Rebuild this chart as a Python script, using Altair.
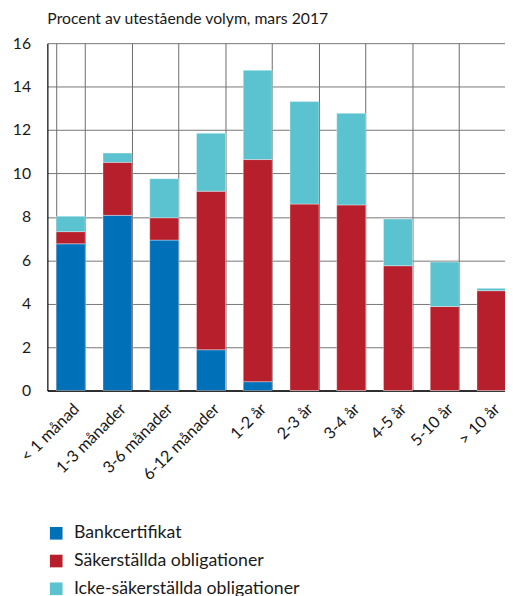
import altair as alt
import pandas as pd

categories = ["< 1 månad", "1-3 månader", "3-6 månader", "6-12 månader", "1-2 år",
              "2-3 år", "3-4 år", "4-5 år", "5-10 år", "> 10 år"]
series_names = ["Bankcertifikat", "Säkerställda obligationer", "Icke-säkerställda obligationer"]
bankcertifikat = [6.76, 8.07, 6.93, 1.88, 0.41, 0.0, 0.0, 0.0, 0.0, 0.0]
sakerstallda = [0.56, 2.44, 1.03, 7.30, 10.23, 8.59, 8.55, 5.75, 3.87, 4.60]
icke_sakerstallda = [0.71, 0.43, 1.80, 2.67, 4.11, 4.72, 4.22, 2.15, 2.05, 0.11]
colors = ["#0070B8", "#B81F2C", "#5BC2D0"]
y_ticks = [0, 2, 4, 6, 8, 10, 12, 14, 16]

rows = []
for s_idx, (name, vals) in enumerate(zip(series_names, [bankcertifikat, sakerstallda, icke_sakerstallda])):
    for c, v in zip(categories, vals):
        rows.append({"kategori": c, "serie": name, "varde": v, "ordning": s_idx})
df = pd.DataFrame(rows)

FONT = "Lato"

chart = alt.Chart(df).mark_bar(stroke="white", strokeWidth=0.6, strokeOpacity=0.6).encode(
    x=alt.X("kategori:N", sort=categories, title=None,
            scale=alt.Scale(range=[0, 475], paddingInner=0.38, paddingOuter=0.19),
            axis=alt.Axis(labelAngle=-45, labelFontSize=16.5, labelFont=FONT, labelColor="#1a1a1a",
                          grid=True, tickBand="extent", gridColor="#6a6a6a", gridWidth=1,
                          domainColor="#000000", domainWidth=1.5, ticks=False, labelPadding=10,
                          labelAlign="right", labelBaseline="top")),
    y=alt.Y("varde:Q", title=None, stack="zero",
            scale=alt.Scale(domain=[0, 16], nice=False),
            axis=alt.Axis(values=y_ticks, labelFontSize=16, labelFont=FONT, labelColor="#1a1a1a",
                          gridColor="#747474", gridWidth=1, domainColor="#000000", domainWidth=1.2,
                          ticks=False, labelPadding=17)),
    color=alt.Color("serie:N", sort=series_names,
                    scale=alt.Scale(domain=series_names, range=colors),
                    legend=alt.Legend(title=None, orient="none", legendX=0, legendY=489,
                                      direction="vertical", symbolType="square", symbolSize=165,
                                      symbolStrokeWidth=0, labelFont=FONT, labelFontSize=18,
                                      labelColor="#1a1a1a", labelOffset=9, rowPadding=10.2,
                                      labelLimit=400)),
    order=alt.Order("ordning:Q", sort="ascending"),
).properties(
    width=465,
    height=353,
    autosize=alt.AutoSizeParams(type="none"),
    padding={"left": 40, "top": 31, "right": 0, "bottom": 204},
    title=alt.Title("Procent av utestående volym, mars 2017", anchor="start", frame="group",
                    font=FONT, fontSize=16, fontWeight="normal", color="#1a1a1a",
                    baseline="bottom", offset=4, dy=12),
).configure_view(stroke=None)

chart.save("out.html", embed_options={"renderer": "svg", "actions": False})
